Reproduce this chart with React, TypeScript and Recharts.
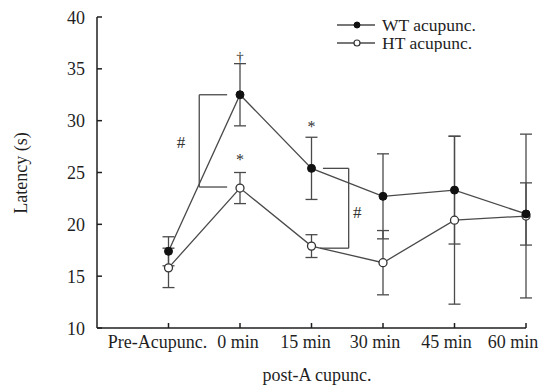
import React from 'react';
import {
  LineChart, Line, XAxis, YAxis, ErrorBar, ReferenceLine, ReferenceDot, Legend,
} from 'recharts';

const categories = ['Pre-Acupunc.', '0 min', '15 min', '30 min', '45 min', '60 min'];
const wtMean = [17.4, 32.5, 25.4, 22.7, 23.3, 21.0];
const wtErr = [1.4, 3.0, 3.0, 4.1, 5.2, 3.0];
const htMean = [15.8, 23.5, 17.9, 16.3, 20.4, 20.8];
const htErr = [1.9, 1.5, 1.1, 3.1, 8.1, 7.9];
const yTicks = [10, 15, 20, 25, 30, 35, 40];

const FONT = '"Liberation Serif", "Times New Roman", serif';
const INK = '#1f1f1f';
const LINE = '#4a4a4a';

// labels in the original sit a little left of their ticks
const LABEL_SHIFT = [-11, -2, -6, -8, -8, -13];

const data = categories.map((c, i) => ({
  x: i + 1,
  name: c,
  wt: wtMean[i],
  wtErr: wtErr[i],
  ht: htMean[i],
  htErr: htErr[i],
}));

const XTick = (props: any) => {
  const { x, y, payload } = props;
  const idx = payload.value - 1;
  const label = categories[idx] ?? '';
  const dx = LABEL_SHIFT[idx] ?? 0;
  return (
    <g>
      <line x1={x} x2={x} y1={y} y2={y - 5} stroke={INK} strokeWidth={1.5} />
      <text x={x + dx} y={y + 20} textAnchor="middle" fontFamily={FONT} fontSize={18} fill={INK}>
        {label}
      </text>
    </g>
  );
};

const YTick = (props: any) => {
  const { x, y, payload } = props;
  return (
    <g>
      <line x1={x} x2={x + 5} y1={y} y2={y} stroke={INK} strokeWidth={1.5} />
      <text x={x - 12} y={y + 6.5} textAnchor="end" fontFamily={FONT} fontSize={18} fill={INK}>
        {payload.value}
      </text>
    </g>
  );
};

const LegendBox = () => (
  <svg width={170} height={42}>
    <line x1={7} x2={45} y1={15} y2={15} stroke={LINE} strokeWidth={1.3} />
    <circle cx={27} cy={15} r={3} fill="#111" stroke="#111" />
    <text x={52} y={20.5} fontFamily={FONT} fontSize={17.5} fill={INK}>WT acupunc.</text>
    <line x1={7} x2={45} y1={33} y2={33} stroke={LINE} strokeWidth={1.3} />
    <circle cx={27} cy={33} r={3} fill="#fff" stroke="#333" strokeWidth={1.2} />
    <text x={52} y={38.5} fontFamily={FONT} fontSize={17.5} fill={INK}>HT acupunc.</text>
  </svg>
);

const mark = (value: string, fontSize = 17) => ({
  value,
  position: 'center' as const,
  fontFamily: FONT,
  fontSize,
  fill: '#333',
});

export default function App() {
  return (
    <div style={{ position: 'absolute', left: 0, top: 0, width: 539, height: 390, background: '#fff' }}>
      <LineChart width={539} height={390} data={data} margin={{ top: 17, right: 13, left: 0, bottom: 32 }}>
        <XAxis
          type="number"
          dataKey="x"
          domain={[0, 6]}
          ticks={[1, 2, 3, 4, 5, 6]}
          height={30}
          tickSize={0}
          tickMargin={0}
          axisLine={{ stroke: INK, strokeWidth: 1.5 }}
          tickLine={false}
          tick={<XTick />}
          interval={0}
          label={{
            content: () => (
              <text x={317} y={381} textAnchor="middle" fontFamily={FONT} fontSize={18} fill={INK}>
                post-A cupunc.
              </text>
            ),
          }}
        />
        <YAxis
          type="number"
          domain={[10, 40]}
          ticks={yTicks}
          width={97}
          tickSize={0}
          tickMargin={0}
          axisLine={{ stroke: INK, strokeWidth: 1.5 }}
          tickLine={false}
          tick={<YTick />}
          interval={0}
          label={{
            content: () => (
              <text
                x={27}
                y={173}
                transform="rotate(-90 27 173)"
                textAnchor="middle"
                fontFamily={FONT}
                fontSize={18}
                fill={INK}
              >
                Latency (s)
              </text>
            ),
          }}
        />
        <Legend
          layout="vertical"
          align="center"
          verticalAlign="middle"
          content={<LegendBox />}
          wrapperStyle={{ position: 'absolute', left: 330, top: 10, width: 170, height: 42 }}
        />

        {/* significance brackets */}
        <ReferenceLine segment={[{ x: 1.43, y: 32.5 }, { x: 1.82, y: 32.5 }]} stroke={LINE} strokeWidth={1.3} ifOverflow="visible" />
        <ReferenceLine segment={[{ x: 1.43, y: 32.5 }, { x: 1.43, y: 23.6 }]} stroke={LINE} strokeWidth={1.3} ifOverflow="visible" />
        <ReferenceLine segment={[{ x: 1.43, y: 23.6 }, { x: 1.82, y: 23.6 }]} stroke={LINE} strokeWidth={1.3} ifOverflow="visible" />
        <ReferenceLine segment={[{ x: 3.16, y: 25.4 }, { x: 3.52, y: 25.4 }]} stroke={LINE} strokeWidth={1.3} ifOverflow="visible" />
        <ReferenceLine segment={[{ x: 3.52, y: 25.4 }, { x: 3.52, y: 17.7 }]} stroke={LINE} strokeWidth={1.3} ifOverflow="visible" />
        <ReferenceLine segment={[{ x: 3.12, y: 17.7 }, { x: 3.52, y: 17.7 }]} stroke={LINE} strokeWidth={1.3} ifOverflow="visible" />

        <Line
          dataKey="ht"
          stroke={LINE}
          strokeWidth={1.3}
          isAnimationActive={false}
          dot={{ r: 4, fill: '#fff', stroke: '#333', strokeWidth: 1.3 }}
          activeDot={false}
        >
          <ErrorBar dataKey="htErr" direction="y" width={6} stroke={LINE} strokeWidth={1.3} isAnimationActive={false} />
        </Line>
        <Line
          dataKey="wt"
          stroke={LINE}
          strokeWidth={1.3}
          isAnimationActive={false}
          dot={{ r: 4, fill: '#111', stroke: '#111', strokeWidth: 1 }}
          activeDot={false}
        >
          <ErrorBar dataKey="wtErr" direction="y" width={6} stroke={LINE} strokeWidth={1.3} isAnimationActive={false} />
        </Line>

        <ReferenceDot x={1.175} y={27.9} r={0} ifOverflow="visible" label={mark('#')} />
        <ReferenceDot x={3.64} y={21.15} r={0} ifOverflow="visible" label={mark('#')} />
        <ReferenceDot x={2} y={26.3} r={0} ifOverflow="visible" label={mark('*', 16)} />
        <ReferenceDot x={3} y={29.5} r={0} ifOverflow="visible" label={mark('*', 16)} />
        <ReferenceDot x={2} y={36.2} r={0} ifOverflow="visible" label={mark('†', 15)} />
      </LineChart>
    </div>
  );
}
